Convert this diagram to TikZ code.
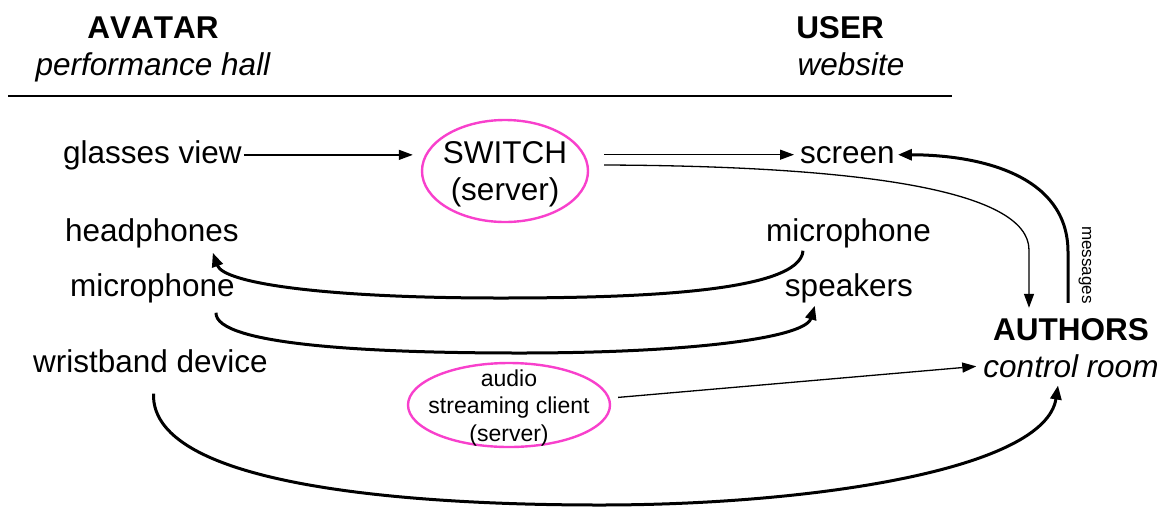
\documentclass[tikz,border=0pt]{standalone}
\usepackage{fontspec}
\setmainfont{Liberation Sans}[Kerning=Off]
\usetikzlibrary{arrows.meta,calc,shapes.geometric}
\definecolor{srvpink}{RGB}{248,64,204}

\begin{document}
\begin{tikzpicture}[x=1pt,y=-1pt,
  txt/.style={font=\fontsize{31.5}{37}\selectfont, inner sep=0pt},
  lbl/.style={txt, anchor=base},
  hd/.style={lbl, font=\fontsize{31.5}{37}\selectfont\bfseries},
  place/.style={lbl, font=\fontsize{31.5}{37}\selectfont\itshape},
  srv/.style={draw=srvpink, line width=2.4pt, ellipse, inner sep=0pt},
  thinarrow/.style={line width=1.3pt, -{Triangle[length=14pt,width=10pt]}},
  thickarrow/.style={line width=3pt, -{Triangle[length=14pt,width=11pt]}}]

\useasboundingbox (0,0) rectangle (1167,523);

% column headings and the rule under them
\node[hd]    (avatar) at (153,38) {AVATAR};
\node[place] (hall)   at (153,75) {performance hall};
\node[hd]    (user)   at (840,38) {USER};
\node[place] (web)    at (851,75) {website};
\coordinate (ruleL) at (8,96);
\coordinate (ruleR) at (952,96);
\draw[line width=2pt] (ruleL) -- (ruleR);

% avatar side
\node[lbl, anchor=base west] (gv)   at (63,163) {glasses view};
\node[lbl, anchor=base west] (hp)   at (65,241) {headphones};
\node[lbl, anchor=base west] (micA) at (70,296) {microphone};
\node[lbl, anchor=base west] (wb)   at (33,372) {wristband device};

% user side
\node[lbl, anchor=base west] (scr)  at (800,163) {screen};
\node[lbl, anchor=base east] (micU) at (931,241) {microphone};
\node[lbl, anchor=base east] (spk)  at (913,296) {speakers};

% authors
\node[hd]    (auth) at (1071,340) {AUTHORS};
\node[place] (ctrl) at (1071,377) {control room};

% servers
\node[srv, minimum width=166pt, minimum height=102pt] (sw) at (505,171) {};
\node[txt, align=center] (swt) at ($(sw)+(0,3)$) {SWITCH\\(server)};
\node[srv, minimum width=202pt, minimum height=84pt] (asc) at (509,405) {};
\node[txt, align=center, font=\fontsize{23}{27.5}\selectfont] (asct) at ($(asc)+(0,3)$)
  {audio\\streaming client\\(server)};

% video path
\draw[thinarrow, shorten <=2pt, shorten >=8pt] (gv.east) -- (gv.east -| sw.west);
\draw[thinarrow, shorten >=6pt] ($(sw.east |- scr.west)+(15,0)$) -- (scr.west);

% switch to authors
\coordinate (swOut)  at ($(sw.east)+(15,-6)$);
\coordinate (authIn) at ($(auth.north)+(-42,-10)$);
\draw[thinarrow] (swOut) .. controls (860,166) and (1029,190) .. (1029,250) -- (authIn);

% messages back to the screen
\coordinate (msgOut) at ($(auth.north)+(-3,-15)$);
\draw[thickarrow, shorten >=3pt] (msgOut) -- (1068,252)
  .. controls (1068,175) and (980,155) .. (scr.east);
\node[font=\fontsize{17}{20}\selectfont, inner sep=0pt, rotate=-90] (msg) at (1085,265) {messages};

% audio: user microphone to avatar headphones
\coordinate (micUOut) at ($(micU.south west)+(37,3)$);
\coordinate (hpIn)    at ($(hp.south east)+(-26,5)$);
\draw[thickarrow] (micUOut) .. controls (800,292) and (640,298) .. (500,298)
  .. controls (330,298) and (224,284) .. (hpIn);

% audio: avatar microphone to user speakers
\coordinate (micAOut) at ($(micA.south east)+(-19,10)$);
\coordinate (spkIn)   at ($(spk.south west)+(30,3)$);
\draw[thickarrow] (micAOut) .. controls (215,345) and (370,353) .. (520,353)
  .. controls (690,353) and (805,338) .. (spkIn);

% wristband to authors
\coordinate (wbOut)  at ($(wb.south)+(3,21)$);
\coordinate (ctrlIn) at ($(ctrl.south)+(-13,8)$);
\draw[thickarrow] (wbOut) .. controls (150,490) and (430,505) .. (600,505)
  .. controls (810,505) and (1045,470) .. (ctrlIn);

% audio streaming client to authors
\draw[thinarrow, shorten <=7pt, shorten >=7pt] ($(asc.east)+(0,-7)$) -- (ctrl.west);

\end{tikzpicture}
\end{document}
